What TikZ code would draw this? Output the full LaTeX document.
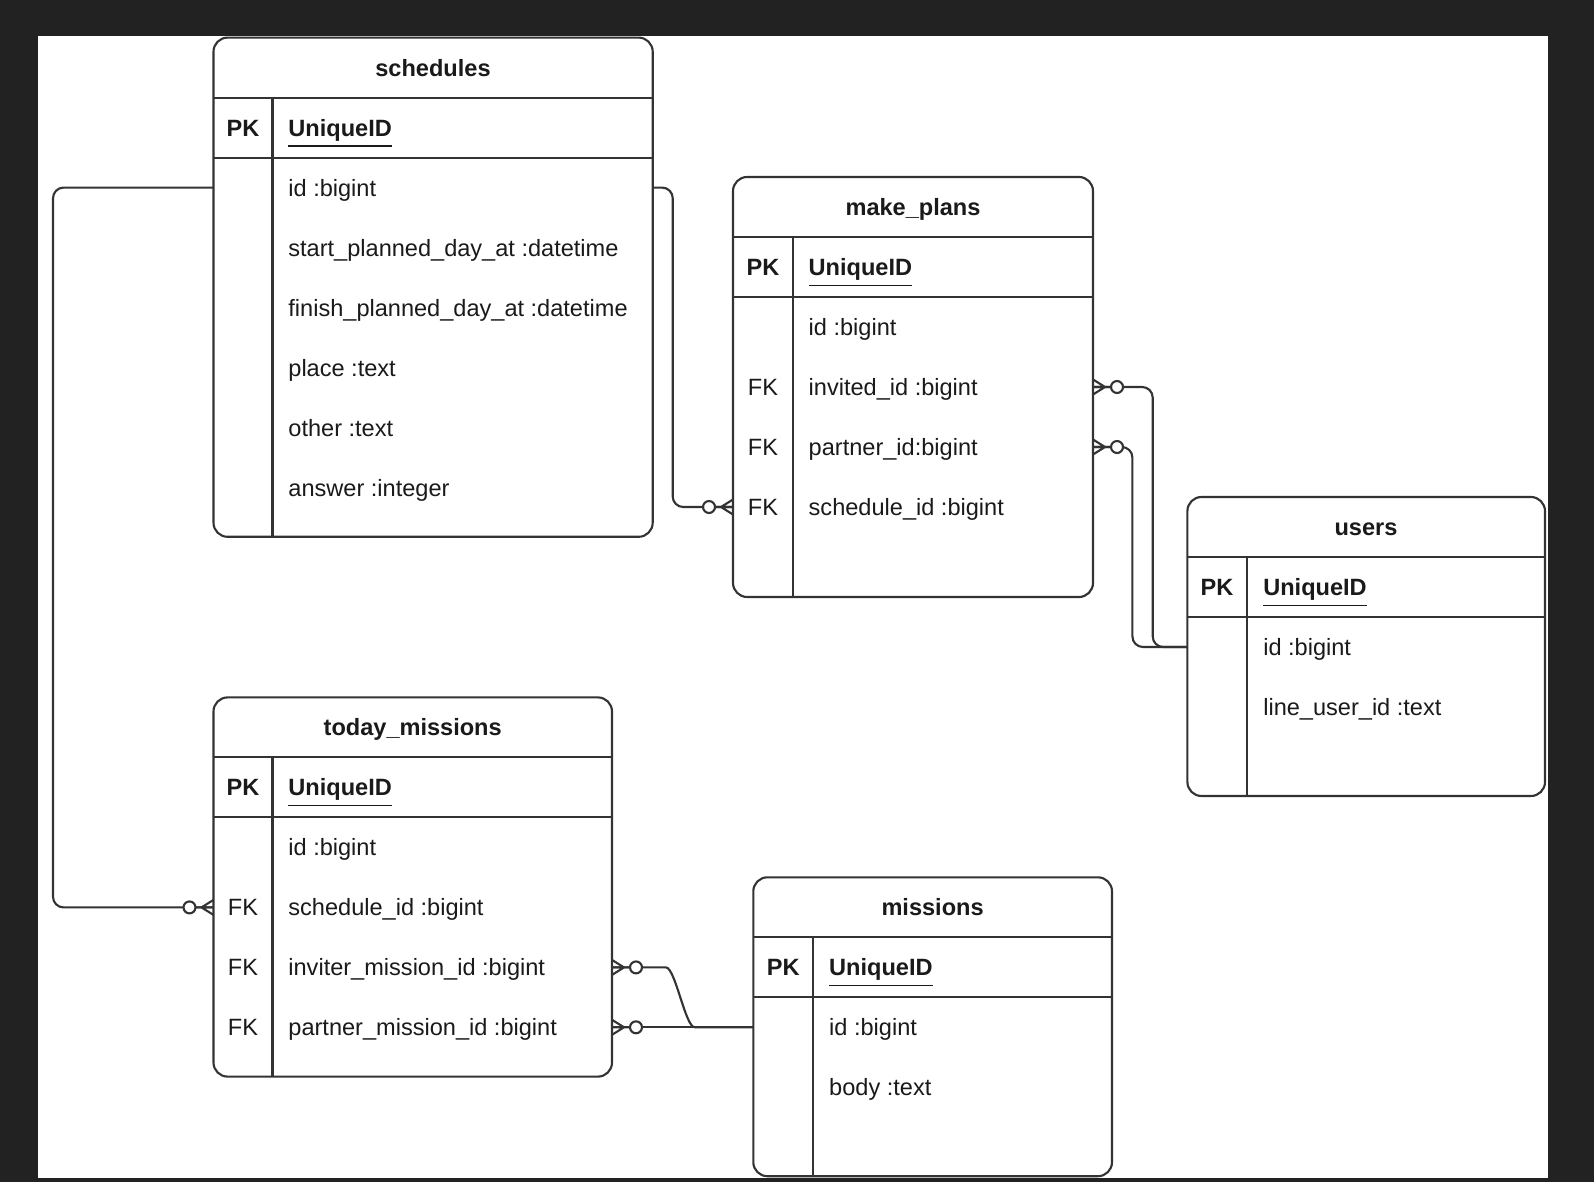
\documentclass[tikz,border=0pt]{standalone}
\usepackage{fontspec}
\setmainfont{Liberation Sans}
\definecolor{ink}{HTML}{333333}
\definecolor{txt}{HTML}{1A1A1A}
\definecolor{bg}{HTML}{222222}
\newcommand{\erfont}{\fontsize{6.7pt}{8pt}\selectfont}
\tikzset{
  tbl/.style={draw=ink,line width=0.6pt,rounded corners=4pt},
  rule/.style={draw=ink,line width=0.6pt},
  title/.style={anchor=base,inner sep=0,yshift=-2.4pt,font=\erfont\bfseries,text=txt},
  key/.style={anchor=base,inner sep=0,yshift=-2.4pt,font=\erfont,text=txt},
  pkey/.style={key,font=\erfont\bfseries},
  field/.style={anchor=base west,inner sep=0,yshift=-2.4pt,font=\erfont,text=txt},
  pfield/.style={field,font=\erfont\bfseries},
  link/.style={draw=ink,line width=0.6pt,rounded corners=3pt},
  zeromany/.pic={
    \draw[ink,line width=0.6pt] (12,0)--(0,-7.5) (12,0)--(0,0) (12,0)--(0,7.5) (0,0)--(18,0);
    \draw[ink,line width=0.6pt,fill=white] (24,0) circle [radius=1.7pt];}
}
\begin{document}
\begin{tikzpicture}[x=0.01cm,y=-0.01cm]
\fill[bg] (0,0) rectangle (1594,1182);
\fill[white] (38,36) rectangle (1548,1178);
\useasboundingbox (0,0) rectangle (1594,1182);

% schedules
\draw[tbl] (213.5,37.6) rectangle (652.7,536.8);
\draw[rule] (213.5,97.6) -- (652.7,97.6) (213.5,157.6) -- (652.7,157.6) (272.5,97.6) -- (272.5,536.8);
\node[title] (sch) at (433,67.6) {schedules};
\node[pkey] (sch-pk) at (243,127.6) {PK};
\node[pfield] (sch-uid) at (287.7,127.6) {\underline{UniqueID}};
\node[field] (sch-id) at (287.7,187.6) {id :bigint};
\node[field] (sch-start) at (287.7,247.6) {start\_planned\_day\_at :datetime};
\node[field] (sch-finish) at (287.7,307.6) {finish\_planned\_day\_at :datetime};
\node[field] (sch-place) at (287.7,367.6) {place :text};
\node[field] (sch-other) at (287.7,427.6) {other :text};
\node[field] (sch-answer) at (287.7,487.6) {answer :integer};
\coordinate (sch-id-w) at (213.5,187.6);
\coordinate (sch-id-e) at (652.7,187.6);

% make_plans
\draw[tbl] (733,177) rectangle (1093,597);
\draw[rule] (733,237) -- (1093,237) (733,297) -- (1093,297) (793,237) -- (793,597);
\node[title] (mp) at (913,207) {make\_plans};
\node[pkey] (mp-pk) at (763,267) {PK};
\node[pfield] (mp-uid) at (808,267) {\underline{UniqueID}};
\node[field] (mp-id) at (808,327) {id :bigint};
\node[key] (mp-fk1) at (763,387) {FK};
\node[field] (mp-inv) at (808,387) {invited\_id :bigint};
\node[key] (mp-fk2) at (763,447) {FK};
\node[field] (mp-par) at (808,447) {partner\_id:bigint};
\node[key] (mp-fk3) at (763,507) {FK};
\node[field] (mp-sch) at (808,507) {schedule\_id :bigint};
\coordinate (mp-inv-e) at (1093,387);
\coordinate (mp-par-e) at (1093,447);
\coordinate (mp-sch-w) at (733,507);

% users
\draw[tbl] (1187.4,497) rectangle (1545,796);
\draw[rule] (1187.4,557) -- (1545,557) (1187.4,617) -- (1545,617) (1247,557) -- (1247,796);
\node[title] (us) at (1366,527) {users};
\node[pkey] (us-pk) at (1217,587) {PK};
\node[pfield] (us-uid) at (1262.6,587) {\underline{UniqueID}};
\node[field] (us-id) at (1262.6,647) {id :bigint};
\node[field] (us-line) at (1262.6,707) {line\_user\_id :text};
\coordinate (us-id-w) at (1187.4,647);

% today_missions
\draw[tbl] (213.5,697.4) rectangle (612,1076.6);
\draw[rule] (213.5,757.4) -- (612,757.4) (213.5,817.4) -- (612,817.4) (272.5,757.4) -- (272.5,1076.6);
\node[title] (tm) at (412.7,727.4) {today\_missions};
\node[pkey] (tm-pk) at (243,787.4) {PK};
\node[pfield] (tm-uid) at (287.7,787.4) {\underline{UniqueID}};
\node[field] (tm-id) at (287.7,847.4) {id :bigint};
\node[key] (tm-fk1) at (243,907.4) {FK};
\node[field] (tm-sch) at (287.7,907.4) {schedule\_id :bigint};
\node[key] (tm-fk2) at (243,967.4) {FK};
\node[field] (tm-inv) at (287.7,967.4) {inviter\_mission\_id :bigint};
\node[key] (tm-fk3) at (243,1027.3) {FK};
\node[field] (tm-par) at (287.7,1027.3) {partner\_mission\_id :bigint};
\coordinate (tm-sch-w) at (213.5,907.4);
\coordinate (tm-inv-e) at (612,967.4);
\coordinate (tm-par-e) at (612,1027.3);

% missions
\draw[tbl] (753.3,877.3) rectangle (1112,1176.2);
\draw[rule] (753.3,937.3) -- (1112,937.3) (753.3,997.3) -- (1112,997.3) (813.3,937.3) -- (813.3,1176.2);
\node[title] (mi) at (932.6,907.3) {missions};
\node[pkey] (mi-pk) at (783.3,967.3) {PK};
\node[pfield] (mi-uid) at (828.5,967.3) {\underline{UniqueID}};
\node[field] (mi-id) at (828.5,1027.3) {id :bigint};
\node[field] (mi-body) at (828.5,1087.3) {body :text};
\coordinate (mi-id-w) at (753.3,1027.3);

% relations
\draw[link] (sch-id-w) -- ++(-160.5,0) |- (tm-sch-w);
\draw[link] (sch-id-e) -- ++(20,0) |- (mp-sch-w);
\draw[link] (us-id-w) -- ++(-34.7,0) |- (mp-inv-e);
\draw[link] (us-id-w) -- ++(-55,0) |- (mp-par-e);
\draw[link] (mi-id-w) -- (tm-par-e);
\draw[link] (mi-id-w) -- ++(-48,0) .. controls +(-20,0) and +(20,0) .. ++(-50,-59.9) -- (tm-inv-e);
\pic[rotate=180] at (tm-sch-w) {zeromany};
\pic[rotate=180] at (mp-sch-w) {zeromany};
\pic at (mp-inv-e) {zeromany};
\pic at (mp-par-e) {zeromany};
\pic at (tm-inv-e) {zeromany};
\pic at (tm-par-e) {zeromany};
\end{tikzpicture}
\end{document}
